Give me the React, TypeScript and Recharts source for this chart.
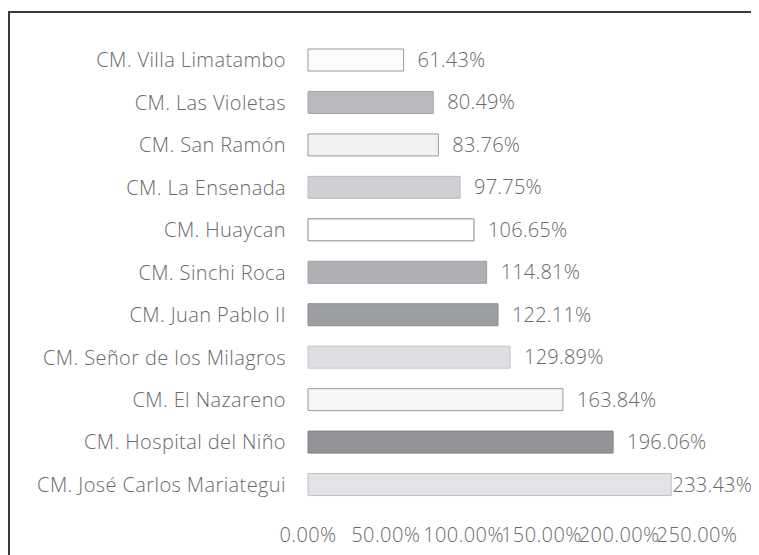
import React from "react";
import { BarChart, Bar, XAxis, YAxis, Cell, LabelList } from "recharts";

const categories = [
  "CM. Villa Limatambo",
  "CM. Las Violetas",
  "CM. San Ramón",
  "CM. La Ensenada",
  "CM. Huaycan",
  "CM. Sinchi Roca",
  "CM. Juan Pablo II",
  "CM. Señor de los Milagros",
  "CM. El Nazareno",
  "CM. Hospital del Niño",
  "CM. José Carlos Mariategui",
];
const values = [61.43, 80.49, 83.76, 97.75, 106.65, 114.81, 122.11, 129.89, 163.84, 196.06, 233.43];
const xTicks = [0, 50, 100, 150, 200, 250];
const fills = [
  "#fbfbfb",
  "#b7b9bc",
  "#f1f2f3",
  "#ced0d3",
  "#ffffff",
  "#aeb0b3",
  "#9c9ea1",
  "#dcdee1",
  "#f6f6f6",
  "#929497",
  "#e1e3e6",
];
const strokes = [
  "#9a9a9a",
  "#a5a7aa",
  "#9a9a9a",
  "#b9bbbe",
  "#8a8a8a",
  "#9d9fa2",
  "#8a8c8f",
  "#c4c6c9",
  "#9a9a9a",
  "#808285",
  "#bfc1c4",
];

const data = categories.map((name, i) => ({ name, value: values[i] }));

const FONT = "'Open Sans', Lato, sans-serif";
const TEXT_COLOR = "#6a6a6a";
const FONT_SIZE = 20;
const LETTER_SPACING = 0.4;
const CHART_W = 751;
const CHART_H = 547;

const ValueLabel = (props: any) => {
  const x = Number(props.x);
  const y = Number(props.y);
  const width = Number(props.width);
  const height = Number(props.height);
  const text = `${Number(props.value).toFixed(2)}%`;
  const estW = text.length * 11.7;
  let tx = x + width + 14;
  let anchor: "start" | "end" = "start";
  if (tx + estW > CHART_W - 6) {
    tx = CHART_W - 7;
    anchor = "end";
  }
  return (
    <text
      x={tx}
      y={y + height / 2}
      dy="0.35em"
      textAnchor={anchor}
      fill={TEXT_COLOR}
      fontFamily={FONT}
      fontWeight={300}
      fontSize={FONT_SIZE}
      letterSpacing={0.2}
    >
      {text}
    </text>
  );
};

const tickStyle = {
  fill: TEXT_COLOR,
  fontFamily: FONT,
  fontSize: FONT_SIZE,
  fontWeight: 300,
  letterSpacing: LETTER_SPACING,
};

export default function App() {
  return (
    <div style={{ position: "relative", width: CHART_W, height: CHART_H }}>
      <div
        style={{
          position: "absolute",
          left: 0,
          top: 3,
          width: 760,
          height: 560,
          borderTop: "2px solid #3a3a3a",
          borderLeft: "2px solid #3a3a3a",
          boxSizing: "border-box",
        }}
      />
      <div style={{ position: "absolute", left: 0, top: 0 }}>
        <BarChart
          width={CHART_W}
          height={CHART_H}
          data={data}
          layout="vertical"
          margin={{ top: 31, right: 62, bottom: 19, left: 0 }}
          barCategoryGap="48%"
        >
          <XAxis
            type="number"
            domain={[0, 250]}
            ticks={xTicks}
            tickFormatter={(v: number) => `${v.toFixed(2)}%`}
            axisLine={false}
            tickLine={false}
            tickSize={0}
            tickMargin={22}
            height={30}
            interval={0}
            tick={tickStyle}
          />
          <YAxis
            type="category"
            dataKey="name"
            width={300}
            axisLine={false}
            tickLine={false}
            tickSize={0}
            tickMargin={22}
            interval={0}
            tick={tickStyle}
          />
          <Bar dataKey="value" isAnimationActive={false} barSize={22}>
            {data.map((d, i) => (
              <Cell key={d.name} fill={fills[i]} stroke={strokes[i]} strokeWidth={1} />
            ))}
            <LabelList dataKey="value" content={ValueLabel} />
          </Bar>
        </BarChart>
      </div>
    </div>
  );
}
